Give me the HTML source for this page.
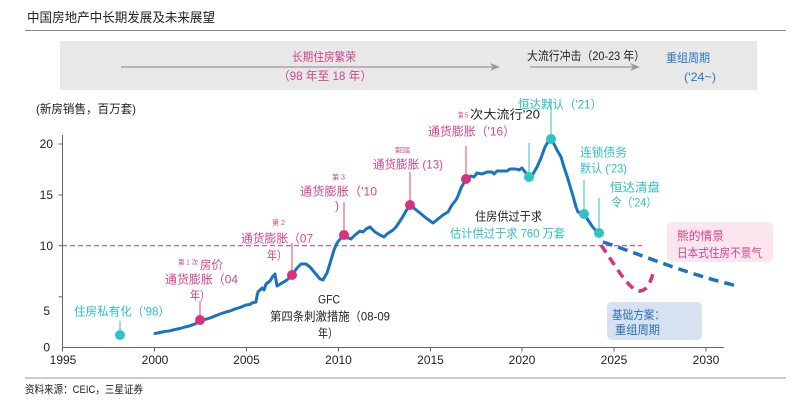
<!DOCTYPE html>
<html><head><meta charset="utf-8"><style>
html,body{margin:0;padding:0;background:#fff;}
svg{display:block;font-family:"Liberation Sans","Noto Sans CJK SC",sans-serif;}
.m{fill:#d0478a;font-size:12px;}
.t{fill:#2fbfc0;font-size:12px;}
.k{fill:#222;font-size:12px;}
.s{fill:#d0478a;font-size:7px;}
.ax{fill:#222;font-size:12px;}
</style></head><body>
<svg width="800" height="412" viewBox="0 0 800 412" xmlns="http://www.w3.org/2000/svg">
<rect width="800" height="412" fill="#fff"/>
<!-- title -->
<text x="27" y="22" font-size="13" fill="#222" textLength="188" lengthAdjust="spacingAndGlyphs">中国房地产中长期发展及未来展望</text>
<line x1="25" y1="30.5" x2="786" y2="30.5" stroke="#888" stroke-width="1"/>
<!-- banner -->
<rect x="60" y="41" width="697" height="49" fill="#e8e8e8"/>
<line x1="121" y1="67" x2="494" y2="67" stroke="#999" stroke-width="1.2"/>
<polygon points="490,63 500,67 490,71 493,67" fill="#999"/>
<line x1="530" y1="67" x2="634" y2="67" stroke="#999" stroke-width="1.2"/>
<polygon points="630,63 640,67 630,71 633,67" fill="#999"/>
<text class="m" x="292" y="61" textLength="64" lengthAdjust="spacingAndGlyphs">长期住房繁荣</text>
<text class="m" x="278" y="80" textLength="94" lengthAdjust="spacingAndGlyphs">（98 年至 18 年）</text>
<text class="k" x="527" y="60" textLength="118" lengthAdjust="spacingAndGlyphs">大流行冲击（20-23 年）</text>
<text x="666" y="62" font-size="12" fill="#2a7abf" textLength="44" lengthAdjust="spacingAndGlyphs">重组周期</text>
<text x="684" y="81" font-size="12" fill="#2a7abf" textLength="32" lengthAdjust="spacingAndGlyphs">('24~)</text>
<!-- y label -->
<text class="k" x="36" y="113" textLength="100" lengthAdjust="spacingAndGlyphs">(新房销售，百万套)</text>
<!-- axes -->
<line x1="62.5" y1="135" x2="62.5" y2="347.5" stroke="#666" stroke-width="1"/>
<line x1="62" y1="347.5" x2="724" y2="347.5" stroke="#666" stroke-width="1"/>
<g stroke="#666" stroke-width="1">
<line x1="58.5" y1="144" x2="62.5" y2="144"/>
<line x1="58.5" y1="195" x2="62.5" y2="195"/>
<line x1="58.5" y1="245.7" x2="62.5" y2="245.7"/>
<line x1="58.5" y1="296.8" x2="62.5" y2="296.8"/>
<line x1="62.5" y1="347.5" x2="62.5" y2="351.5"/>
<line x1="154.5" y1="347.5" x2="154.5" y2="351.5"/>
<line x1="246.5" y1="347.5" x2="246.5" y2="351.5"/>
<line x1="338.5" y1="347.5" x2="338.5" y2="351.5"/>
<line x1="430.5" y1="347.5" x2="430.5" y2="351.5"/>
<line x1="522" y1="347.5" x2="522" y2="351.5"/>
<line x1="614" y1="347.5" x2="614" y2="351.5"/>
<line x1="706" y1="347.5" x2="706" y2="351.5"/>
</g>
<g class="ax" text-anchor="end">
<text x="53" y="148">20</text>
<text x="53" y="199">15</text>
<text x="53" y="250">10</text>
<text x="50" y="315">5</text>
<text x="50" y="351.5">0</text>
</g>
<g class="ax" text-anchor="middle">
<text x="63" y="364">1995</text>
<text x="155" y="364">2000</text>
<text x="246.5" y="364">2005</text>
<text x="338.5" y="364">2010</text>
<text x="430.5" y="364">2015</text>
<text x="522" y="364">2020</text>
<text x="614" y="364">2025</text>
<text x="706" y="364">2030</text>
</g>
<!-- 10 threshold -->
<line x1="62" y1="245.7" x2="642" y2="245.7" stroke="#d0478a" stroke-width="1.2" stroke-dasharray="5,3"/>
<!-- projections -->
<path d="M603,242 C640,254 680,272 737,286" fill="none" stroke="#1a73c0" stroke-width="3.5" stroke-dasharray="10,6"/>
<path d="M601,245 C615,265 630,292 640,291 C648,290 651,281 654,270" fill="none" stroke="#d6337a" stroke-width="3.5" stroke-dasharray="9,6"/>
<!-- boxes -->
<rect x="667" y="222" width="106" height="40" rx="5" fill="#fbe5ef"/>
<text class="m" x="677" y="240" textLength="47" lengthAdjust="spacingAndGlyphs">熊的情景</text>
<text class="m" x="677" y="257" textLength="85" lengthAdjust="spacingAndGlyphs">日本式住房不景气</text>
<rect x="607" y="302" width="95" height="38" rx="5" fill="#d6e2ef"/>
<text x="612" y="319" font-size="12" fill="#2a6fb5" textLength="53" lengthAdjust="spacingAndGlyphs">基础方案：</text>
<text x="615" y="334" font-size="12" fill="#2a6fb5" textLength="45" lengthAdjust="spacingAndGlyphs">重组周期</text>
<!-- annotation lines -->
<g stroke-width="1">
<line x1="120" y1="321" x2="120" y2="335" stroke="#2fbfc0"/>
<line x1="529" y1="143" x2="529" y2="177" stroke="#2fbfc0"/>
<line x1="551" y1="99" x2="551" y2="139" stroke="#2fbfc0"/>
<line x1="584" y1="180" x2="584" y2="214" stroke="#2fbfc0"/>
<line x1="599" y1="198" x2="599" y2="233" stroke="#2fbfc0"/>
<line x1="200" y1="301" x2="200" y2="320" stroke="#d0478a"/>
<line x1="292" y1="243" x2="292" y2="275" stroke="#d0478a"/>
<line x1="344" y1="202" x2="344" y2="235" stroke="#d0478a"/>
<line x1="410" y1="172" x2="410" y2="205" stroke="#d0478a"/>
<line x1="466" y1="146" x2="466" y2="179" stroke="#d0478a"/>
</g>
<!-- main series -->
<polyline fill="none" stroke="#1a73c0" stroke-width="3" stroke-linejoin="round" stroke-linecap="round" points="155,333.5 160,332.5 165,331.5 170,330.8 175,329.5 180,328.5 185,327 190,325.8 195,324 200,321 205,319.5 210,318 215,316 220,314 226,312 230,311 235,309 240,307.5 246,305 250,304.5 252,303 256,302 257,296 258,292 262,288 264,290 266,284 270,281 273,276 275,274 277,286 282,283 287,280 292,275 297,268 301,264 306,264 310,267 315,273 320,279 323,280 327,273 331,260 334,250 337,243 341,238 344,235 348,238 351,239 355,235 360,231 363,232 366,229 370,227 375,232 380,235 384,237 387,234 390,232 393,230 396,227 402,218 406,211 410,205 415,209 420,213 426,218 433,223 438,219 443,215 448,212 452,205 456,200 458,196 461,188 466,179 471,176 474,177 477,173 482,174 487,172 492,172 494,174 497,171 503,171 507,171 510,169 516,169 519,170 522,168 525,172 529,177 533,174 537,167 541,158 545,147 549,140 551,139 554,144 557,150 561,157 564,167 567,176 570,186 573,196 576,207 578,212 582,213 584,214 588,220 592,226 596,231 599,233"/>
<!-- markers -->
<g fill="#d6337a">
<circle cx="200" cy="320" r="5"/>
<circle cx="292" cy="275" r="5"/>
<circle cx="344" cy="235" r="5"/>
<circle cx="410" cy="205" r="5"/>
<circle cx="466" cy="179" r="5"/>
</g>
<g fill="#2fc4c4">
<circle cx="120" cy="335" r="5"/>
<circle cx="529" cy="177" r="5"/>
<circle cx="551" cy="139" r="5"/>
<circle cx="584" cy="214" r="5"/>
<circle cx="599" cy="233" r="5"/>
</g>
<!-- annotations -->
<text class="t" x="74" y="315.5" textLength="96" lengthAdjust="spacingAndGlyphs">住房私有化（'98）</text>
<text class="s" x="178" y="264.5" textLength="20" lengthAdjust="spacingAndGlyphs">第 1 次</text>
<text class="m" x="200" y="269" textLength="23" lengthAdjust="spacingAndGlyphs">房价</text>
<text class="m" x="165" y="283.5" textLength="73" lengthAdjust="spacingAndGlyphs">通货膨胀（04</text>
<text class="m" x="190" y="299.5" textLength="20" lengthAdjust="spacingAndGlyphs">年）</text>
<text class="s" x="272" y="225" textLength="13" lengthAdjust="spacingAndGlyphs">第 2</text>
<text class="m" x="241" y="242.5" textLength="72" lengthAdjust="spacingAndGlyphs">通货膨胀（07</text>
<text class="m" x="267" y="259.5" textLength="20" lengthAdjust="spacingAndGlyphs">年）</text>
<text class="s" x="332" y="179.5" textLength="13" lengthAdjust="spacingAndGlyphs">第 3</text>
<text class="m" x="300" y="195.5" textLength="77" lengthAdjust="spacingAndGlyphs">通货膨胀（'10</text>
<text class="m" x="335" y="209.5">)</text>
<text class="s" x="395" y="152.5" textLength="15" lengthAdjust="spacingAndGlyphs">第四届</text>
<text class="m" x="373" y="168.5" textLength="70" lengthAdjust="spacingAndGlyphs">通货膨胀 (13)</text>
<text class="s" x="458" y="117.5" textLength="10" lengthAdjust="spacingAndGlyphs">第 5</text>
<text class="k" x="470" y="118.5" textLength="70" lengthAdjust="spacingAndGlyphs">次大流行'20</text>
<text class="m" x="428" y="135.5" textLength="87" lengthAdjust="spacingAndGlyphs">通货膨胀（'16）</text>
<text class="t" x="518" y="108.5" textLength="84" lengthAdjust="spacingAndGlyphs">恒达默认（'21）</text>
<text class="t" x="580" y="156.5" textLength="47" lengthAdjust="spacingAndGlyphs">连锁债务</text>
<text class="t" x="580" y="172.5" textLength="47" lengthAdjust="spacingAndGlyphs">默认 ('23)</text>
<text class="t" x="610" y="191.5" textLength="50" lengthAdjust="spacingAndGlyphs">恒达清盘</text>
<text class="t" x="611" y="206.5" textLength="46" lengthAdjust="spacingAndGlyphs">令（'24）</text>
<text class="k" x="475" y="220.5" textLength="67" lengthAdjust="spacingAndGlyphs">住房供过于求</text>
<text class="t" x="450" y="237.5" textLength="115" lengthAdjust="spacingAndGlyphs">估计供过于求 760 万套</text>
<text class="k" x="318" y="303.5" textLength="22" lengthAdjust="spacingAndGlyphs">GFC</text>
<text class="k" x="270" y="320.5" textLength="120" lengthAdjust="spacingAndGlyphs">第四条刺激措施（08-09</text>
<text class="k" x="318" y="337.5" textLength="20" lengthAdjust="spacingAndGlyphs">年）</text>
<!-- footer -->
<line x1="25" y1="378" x2="786" y2="378" stroke="#ccc" stroke-width="2"/>
<text x="25" y="393" font-size="11" fill="#222" textLength="118" lengthAdjust="spacingAndGlyphs">资料来源：CEIC，三星证券</text>
</svg>
</body></html>
